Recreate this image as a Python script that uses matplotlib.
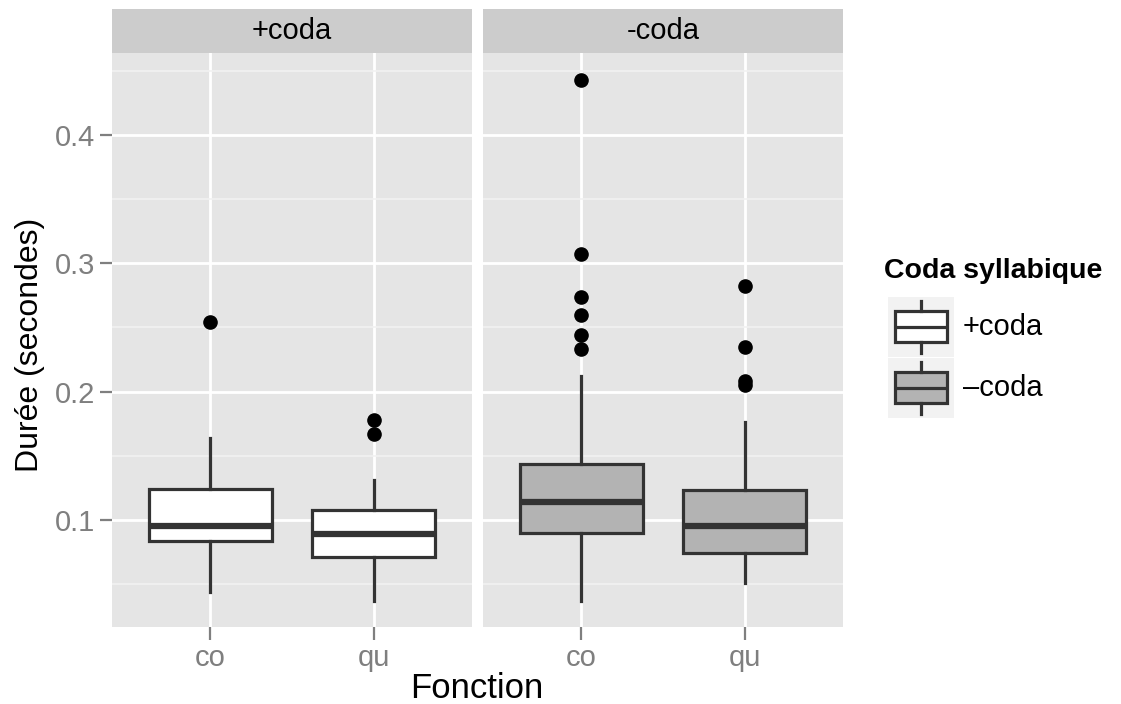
import matplotlib.pyplot as plt
from matplotlib.ticker import MultipleLocator

plt.rcParams['font.family'] = ['Liberation Sans', 'DejaVu Sans']

# facettes et catégories
panels = ['+coda', '-coda']
fonctions = ['co', 'qu']
legend_labels = ['+coda', '\u2013coda']

# statistiques des boîtes (par facette, puis co / qu), en secondes
whislo = [[0.044, 0.037], [0.037, 0.051]]
q1 = [[0.084, 0.071], [0.090, 0.074]]
med = [[0.095, 0.089], [0.114, 0.095]]
q3 = [[0.124, 0.108], [0.144, 0.123]]
whishi = [[0.164, 0.131], [0.212, 0.176]]
fliers = [
    [[0.254], [0.178, 0.167]],
    [[0.443, 0.307, 0.274, 0.260, 0.244, 0.233], [0.282, 0.235, 0.208, 0.205]],
]

fills = ['white', '#B3B3B3']
line_col = '#333333'
grey_txt = '#7F7F7F'

W, H = 1121, 704
fig = plt.figure(figsize=(W / 100, H / 100), dpi=100)

panel_x = [112, 483]
panel_w = 360
top, bottom = 53, 627

for i, name in enumerate(panels):
    ax = fig.add_axes([panel_x[i] / W, 1 - bottom / H, panel_w / W, (bottom - top) / H])
    ax.set_facecolor('#E5E5E5')
    stats = []
    for j, f in enumerate(fonctions):
        stats.append(dict(label=f, whislo=whislo[i][j], q1=q1[i][j], med=med[i][j],
                          q3=q3[i][j], whishi=whishi[i][j], fliers=fliers[i][j]))
    ax.bxp(stats, positions=[1, 2], widths=0.75, patch_artist=True, showcaps=False,
           boxprops=dict(facecolor=fills[i], edgecolor=line_col, linewidth=2.3),
           medianprops=dict(color=line_col, linewidth=4.5, solid_capstyle='butt'),
           whiskerprops=dict(color=line_col, linewidth=2.3),
           flierprops=dict(marker='o', markerfacecolor='black', markeredgecolor='black',
                           markersize=9.5))
    ax.set_xlim(0.4, 2.6)
    ax.set_ylim(0.0166, 0.4639)
    ax.yaxis.set_major_locator(MultipleLocator(0.1))
    ax.yaxis.set_minor_locator(MultipleLocator(0.05))
    ax.grid(which='major', color='white', linewidth=2)
    ax.grid(which='minor', axis='y', color='#F2F2F2', linewidth=1.2)
    ax.set_axisbelow(True)
    for s in ax.spines.values():
        s.set_visible(False)
    ax.tick_params(which='minor', length=0)
    ax.tick_params(which='major', length=9, width=1.6, color=grey_txt,
                   labelcolor=grey_txt, labelsize=21, pad=3)
    ax.set_xticks([1, 2])
    ax.set_xticklabels(fonctions)
    if i > 0:
        ax.tick_params(axis='y', which='both', left=False, labelleft=False)

    # bandeau de facette
    sax = fig.add_axes([panel_x[i] / W, 1 - top / H, panel_w / W, 44 / H])
    sax.set_facecolor('#CCCCCC')
    sax.set_xticks([])
    sax.set_yticks([])
    for s in sax.spines.values():
        s.set_visible(False)
    sax.text(0.5, 0.5, name, ha='center', va='center', fontsize=21, color='black')

fig.text(477 / W, 1 - 688 / H, 'Fonction', ha='center', va='center', fontsize=25)
fig.text(30 / W, 1 - 345 / H, 'Durée (secondes)', ha='center', va='center',
         rotation=90, fontsize=23)

# légende
fig.text(884 / W, 1 - 271 / H, 'Coda syllabique', ha='left', va='center',
         fontsize=20.5, fontweight='bold')
key_y = [297, 358]
for k, lab in enumerate(legend_labels):
    kax = fig.add_axes([888 / W, 1 - (key_y[k] + 60) / H, 66 / W, 60 / H])
    kax.set_facecolor('#F2F2F2')
    kax.bxp([dict(whislo=0.06, q1=0.25, med=0.5, q3=0.77, whishi=0.94, fliers=[])],
            positions=[0.5], widths=0.8, patch_artist=True, showcaps=False,
            boxprops=dict(facecolor=fills[k], edgecolor=line_col, linewidth=2.3),
            medianprops=dict(color=line_col, linewidth=2.3),
            whiskerprops=dict(color=line_col, linewidth=2.3))
    kax.set_xlim(0, 1)
    kax.set_ylim(0, 1)
    kax.set_xticks([])
    kax.set_yticks([])
    for s in kax.spines.values():
        s.set_visible(False)
    fig.text(963 / W, 1 - (key_y[k] + 30) / H, lab, ha='left', va='center', fontsize=21)

fig.savefig('out.png', dpi=100)
